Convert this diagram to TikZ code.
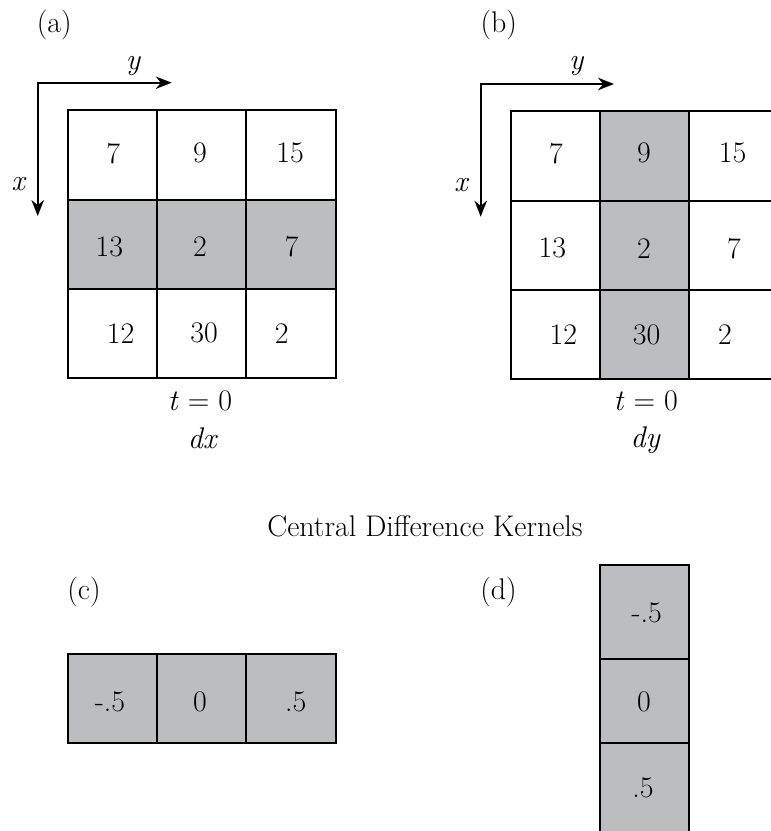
\documentclass[tikz,border=0pt]{standalone}
\usepackage{tikz}
\usetikzlibrary{arrows.meta}
\definecolor{cellgray}{RGB}{188,189,192}

\begin{document}
\begin{tikzpicture}[
    line/.style={line width=1.1pt},
    axis/.style={line width=1.1pt,{Stealth[length=0.32cm,width=0.25cm]}-{Stealth[length=0.32cm,width=0.25cm]}},
    num/.style={font=\fontsize{17}{20}\selectfont,inner sep=0pt},
    tag/.style={font=\fontsize{17}{20}\selectfont,inner sep=0pt,anchor=base}
]
\useasboundingbox (0,0) rectangle (15.42,-16.62);
\clip (0,0) rectangle (15.42,-16.62);

% (a) grid, middle row shaded
\fill[cellgray] (1.354,-4.0) rectangle (6.714,-5.78);
\draw[line] (1.354,-2.2) rectangle (6.714,-7.554);
\draw[line] (3.134,-2.2) -- (3.134,-7.554) (4.92,-2.2) -- (4.92,-7.554)
    (1.354,-4.0) -- (6.714,-4.0) (1.354,-5.78) -- (6.714,-5.78);

\coordinate (oa) at (0.754,-1.654);
\coordinate (ya) at (3.434,-1.654);
\coordinate (xa) at (0.754,-4.32);
\draw[axis] (ya) -- (oa) -- (xa);

\node[num] (la) at (1.087,-0.5) {(a)};
\node[tag] (yla) at (2.667,-1.38) {\textit{y}};
\node[tag] (xla) at (0.38,-3.8) {\textit{x}};

\node[num] (a11) at (2.266,-3.066) {7};
\node[num] (a12) at (4.0,-3.066) {9};
\node[num] (a13) at (5.8,-3.066) {15};
\node[num] (a21) at (2.186,-4.934) {13};
\node[num] (a22) at (4.0,-4.934) {2};
\node[num] (a23) at (5.834,-4.934) {7};
\node[num] (a31) at (2.414,-6.666) {12};
\node[num] (a32) at (4.08,-6.666) {30};
\node[num] (a33) at (5.634,-6.666) {2};

\node[tag] (ta) at (4.0,-8.2) {\textit{t} = 0};
\node[tag] (da) at (4.06,-8.96) {\textit{dx}};

% (b) grid, middle column shaded
\fill[cellgray] (12.006,-2.22) rectangle (13.786,-7.574);
\draw[line] (10.214,-2.22) rectangle (15.57,-7.574);
\draw[line] (12.006,-2.22) -- (12.006,-7.574) (13.786,-2.22) -- (13.786,-7.574)
    (10.214,-4.014) -- (15.57,-4.014) (10.214,-5.794) -- (15.57,-5.794);

\coordinate (ob) at (9.614,-1.68);
\coordinate (yb) at (12.28,-1.68);
\coordinate (xb) at (9.614,-4.334);
\draw[axis] (yb) -- (ob) -- (xb);

\node[num] (lb) at (9.977,-0.5) {(b)};
\node[tag] (ylb) at (11.534,-1.38) {\textit{y}};
\node[tag] (xlb) at (9.234,-3.834) {\textit{x}};

\node[num] (b11) at (11.12,-3.066) {7};
\node[num] (b12) at (12.88,-3.066) {9};
\node[num] (b13) at (14.654,-3.066) {15};
\node[num] (b21) at (11.046,-4.966) {13};
\node[num] (b22) at (12.88,-4.966) {2};
\node[num] (b23) at (14.68,-4.966) {7};
\node[num] (b31) at (11.266,-6.7) {12};
\node[num] (b32) at (12.934,-6.7) {30};
\node[num] (b33) at (14.5,-6.7) {2};

\node[tag] (tb) at (12.914,-8.2) {\textit{t} = 0};
\node[tag] (db) at (12.914,-8.94) {\textit{dy}};

\node[tag] (title) at (8.5,-10.73) {Central Difference Kernels};

% (c) row kernel
\fill[cellgray] (1.354,-13.086) rectangle (6.714,-14.866);
\draw[line] (1.354,-13.086) rectangle (6.714,-14.866);
\draw[line] (3.134,-13.086) -- (3.134,-14.866) (4.92,-13.086) -- (4.92,-14.866);

\node[num] (lc) at (1.68,-11.84) {(c)};
\node[num] (c1) at (2.2,-14.034) {-.5};
\node[num] (c2) at (4.0,-14.034) {0};
\node[num] (c3) at (5.914,-14.034) {.5};

% (d) column kernel
\fill[cellgray] (12.0,-11.3) rectangle (13.78,-16.64);
\draw[line] (12.0,-11.3) rectangle (13.78,-16.64);
\draw[line] (12.0,-13.18) -- (13.78,-13.18) (12.0,-14.866) -- (13.78,-14.866);

\node[num] (ld) at (9.97,-11.84) {(d)};
\node[num] (d1) at (12.934,-12.26) {-.5};
\node[num] (d2) at (12.88,-14.034) {0};
\node[num] (d3) at (12.86,-15.76) {.5};

\end{tikzpicture}
\end{document}
